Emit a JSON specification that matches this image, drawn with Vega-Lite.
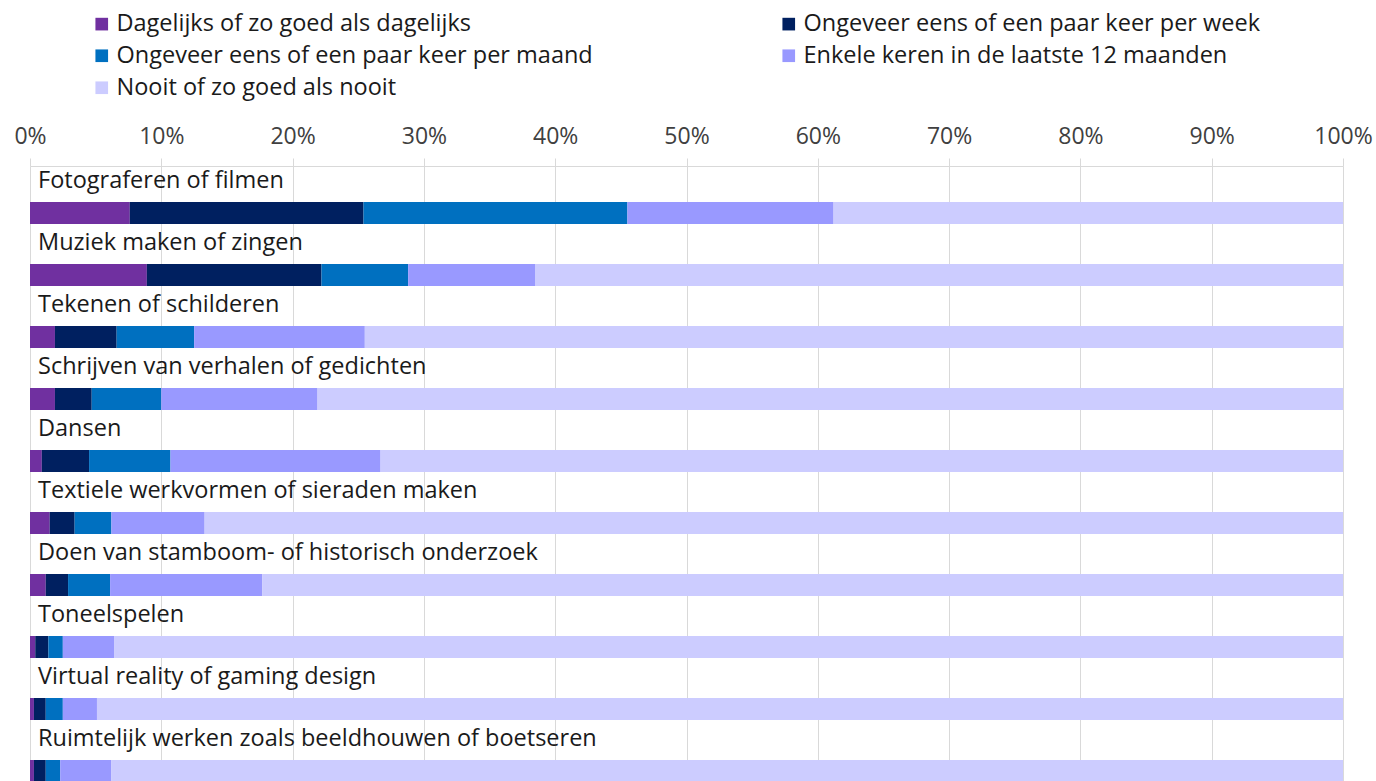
{
  "$schema": "https://vega.github.io/schema/vega-lite/v6.json",
  "width": 1313,
  "height": 620,
  "autosize": {"type": "none"},
  "padding": {"left": 30, "top": 166, "right": 33, "bottom": 0},
  "background": "white",
  "config": {"font": "Open Sans", "view": {"stroke": null}},
  "data": {"values": [
    {"a": "Fotograferen of filmen", "k": 1, "f": "Dagelijks of zo goed als dagelijks", "p": 7.6},
    {"a": "Fotograferen of filmen", "k": 2, "f": "Ongeveer eens of een paar keer per week", "p": 17.8},
    {"a": "Fotograferen of filmen", "k": 3, "f": "Ongeveer eens of een paar keer per maand", "p": 20.1},
    {"a": "Fotograferen of filmen", "k": 4, "f": "Enkele keren in de laatste 12 maanden", "p": 15.7},
    {"a": "Fotograferen of filmen", "k": 5, "f": "Nooit of zo goed als nooit", "p": 38.8},
    {"a": "Muziek maken of zingen", "k": 1, "f": "Dagelijks of zo goed als dagelijks", "p": 8.9},
    {"a": "Muziek maken of zingen", "k": 2, "f": "Ongeveer eens of een paar keer per week", "p": 13.3},
    {"a": "Muziek maken of zingen", "k": 3, "f": "Ongeveer eens of een paar keer per maand", "p": 6.6},
    {"a": "Muziek maken of zingen", "k": 4, "f": "Enkele keren in de laatste 12 maanden", "p": 9.7},
    {"a": "Muziek maken of zingen", "k": 5, "f": "Nooit of zo goed als nooit", "p": 61.5},
    {"a": "Tekenen of schilderen", "k": 1, "f": "Dagelijks of zo goed als dagelijks", "p": 1.9},
    {"a": "Tekenen of schilderen", "k": 2, "f": "Ongeveer eens of een paar keer per week", "p": 4.7},
    {"a": "Tekenen of schilderen", "k": 3, "f": "Ongeveer eens of een paar keer per maand", "p": 5.9},
    {"a": "Tekenen of schilderen", "k": 4, "f": "Enkele keren in de laatste 12 maanden", "p": 13.0},
    {"a": "Tekenen of schilderen", "k": 5, "f": "Nooit of zo goed als nooit", "p": 74.5},
    {"a": "Schrijven van verhalen of gedichten", "k": 1, "f": "Dagelijks of zo goed als dagelijks", "p": 1.9},
    {"a": "Schrijven van verhalen of gedichten", "k": 2, "f": "Ongeveer eens of een paar keer per week", "p": 2.8},
    {"a": "Schrijven van verhalen of gedichten", "k": 3, "f": "Ongeveer eens of een paar keer per maand", "p": 5.3},
    {"a": "Schrijven van verhalen of gedichten", "k": 4, "f": "Enkele keren in de laatste 12 maanden", "p": 11.9},
    {"a": "Schrijven van verhalen of gedichten", "k": 5, "f": "Nooit of zo goed als nooit", "p": 78.1},
    {"a": "Dansen", "k": 1, "f": "Dagelijks of zo goed als dagelijks", "p": 0.9},
    {"a": "Dansen", "k": 2, "f": "Ongeveer eens of een paar keer per week", "p": 3.6},
    {"a": "Dansen", "k": 3, "f": "Ongeveer eens of een paar keer per maand", "p": 6.2},
    {"a": "Dansen", "k": 4, "f": "Enkele keren in de laatste 12 maanden", "p": 16.0},
    {"a": "Dansen", "k": 5, "f": "Nooit of zo goed als nooit", "p": 73.3},
    {"a": "Textiele werkvormen of sieraden maken", "k": 1, "f": "Dagelijks of zo goed als dagelijks", "p": 1.5},
    {"a": "Textiele werkvormen of sieraden maken", "k": 2, "f": "Ongeveer eens of een paar keer per week", "p": 1.9},
    {"a": "Textiele werkvormen of sieraden maken", "k": 3, "f": "Ongeveer eens of een paar keer per maand", "p": 2.8},
    {"a": "Textiele werkvormen of sieraden maken", "k": 4, "f": "Enkele keren in de laatste 12 maanden", "p": 7.1},
    {"a": "Textiele werkvormen of sieraden maken", "k": 5, "f": "Nooit of zo goed als nooit", "p": 86.7},
    {"a": "Doen van stamboom- of historisch onderzoek", "k": 1, "f": "Dagelijks of zo goed als dagelijks", "p": 1.2},
    {"a": "Doen van stamboom- of historisch onderzoek", "k": 2, "f": "Ongeveer eens of een paar keer per week", "p": 1.7},
    {"a": "Doen van stamboom- of historisch onderzoek", "k": 3, "f": "Ongeveer eens of een paar keer per maand", "p": 3.2},
    {"a": "Doen van stamboom- of historisch onderzoek", "k": 4, "f": "Enkele keren in de laatste 12 maanden", "p": 11.6},
    {"a": "Doen van stamboom- of historisch onderzoek", "k": 5, "f": "Nooit of zo goed als nooit", "p": 82.3},
    {"a": "Toneelspelen", "k": 1, "f": "Dagelijks of zo goed als dagelijks", "p": 0.4},
    {"a": "Toneelspelen", "k": 2, "f": "Ongeveer eens of een paar keer per week", "p": 1.0},
    {"a": "Toneelspelen", "k": 3, "f": "Ongeveer eens of een paar keer per maand", "p": 1.1},
    {"a": "Toneelspelen", "k": 4, "f": "Enkele keren in de laatste 12 maanden", "p": 3.9},
    {"a": "Toneelspelen", "k": 5, "f": "Nooit of zo goed als nooit", "p": 93.6},
    {"a": "Virtual reality of gaming design", "k": 1, "f": "Dagelijks of zo goed als dagelijks", "p": 0.3},
    {"a": "Virtual reality of gaming design", "k": 2, "f": "Ongeveer eens of een paar keer per week", "p": 0.9},
    {"a": "Virtual reality of gaming design", "k": 3, "f": "Ongeveer eens of een paar keer per maand", "p": 1.3},
    {"a": "Virtual reality of gaming design", "k": 4, "f": "Enkele keren in de laatste 12 maanden", "p": 2.6},
    {"a": "Virtual reality of gaming design", "k": 5, "f": "Nooit of zo goed als nooit", "p": 94.9},
    {"a": "Ruimtelijk werken zoals beeldhouwen of boetseren", "k": 1, "f": "Dagelijks of zo goed als dagelijks", "p": 0.3},
    {"a": "Ruimtelijk werken zoals beeldhouwen of boetseren", "k": 2, "f": "Ongeveer eens of een paar keer per week", "p": 0.9},
    {"a": "Ruimtelijk werken zoals beeldhouwen of boetseren", "k": 3, "f": "Ongeveer eens of een paar keer per maand", "p": 1.1},
    {"a": "Ruimtelijk werken zoals beeldhouwen of boetseren", "k": 4, "f": "Enkele keren in de laatste 12 maanden", "p": 3.9},
    {"a": "Ruimtelijk werken zoals beeldhouwen of boetseren", "k": 5, "f": "Nooit of zo goed als nooit", "p": 93.8}
  ]},
  "layer": [
    {
      "mark": {"type": "bar", "size": 22, "yOffset": 16},
      "encoding": {
        "y": {"field": "a", "type": "nominal", "sort": null, "axis": null, "scale": {"paddingInner": 0, "paddingOuter": 0}},
        "x": {
          "field": "p", "type": "quantitative", "stack": "normalize",
          "scale": {"domain": [0, 1], "nice": false},
          "axis": {
            "orient": "top", "title": null, "format": ".0%",
            "values": [0, 0.1, 0.2, 0.3, 0.4, 0.5, 0.6, 0.7, 0.8, 0.9, 1],
            "labelFontSize": 23, "labelColor": "#404040", "labelPadding": 10, "labelFlush": false,
            "gridColor": "#d9d9d9", "domainColor": "#d9d9d9", "tickColor": "#d9d9d9", "tickSize": 8
          }
        },
        "color": {
          "field": "f", "type": "nominal",
          "sort": ["Dagelijks of zo goed als dagelijks", "Ongeveer eens of een paar keer per week", "Ongeveer eens of een paar keer per maand", "Enkele keren in de laatste 12 maanden", "Nooit of zo goed als nooit"],
          "scale": {
            "domain": ["Dagelijks of zo goed als dagelijks", "Ongeveer eens of een paar keer per week", "Ongeveer eens of een paar keer per maand", "Enkele keren in de laatste 12 maanden", "Nooit of zo goed als nooit"],
            "range": ["#7030A0", "#002060", "#0070C0", "#9999FF", "#CCCCFF"]
          },
          "legend": {
            "orient": "none", "legendX": 60, "legendY": -154, "direction": "horizontal", "columns": 2,
            "title": null, "symbolType": "square", "symbolSize": 160, "symbolStrokeWidth": 0,
            "labelFontSize": 23.5, "labelColor": "#1a1a1a", "labelLimit": 600, "labelOffset": 3,
            "rowPadding": 7, "columnPadding": 184
          }
        },
        "order": {"field": "k", "type": "quantitative", "sort": "ascending"}
      }
    },
    {
      "transform": [{"filter": "datum.k === 1"}],
      "mark": {"type": "text", "align": "left", "baseline": "middle", "dx": 8, "yOffset": -16, "fontSize": 23.5, "color": "#1a1a1a"},
      "encoding": {
        "y": {"field": "a", "type": "nominal", "sort": null, "axis": null},
        "x": {"datum": 0},
        "text": {"field": "a"}
      }
    }
  ]
}
